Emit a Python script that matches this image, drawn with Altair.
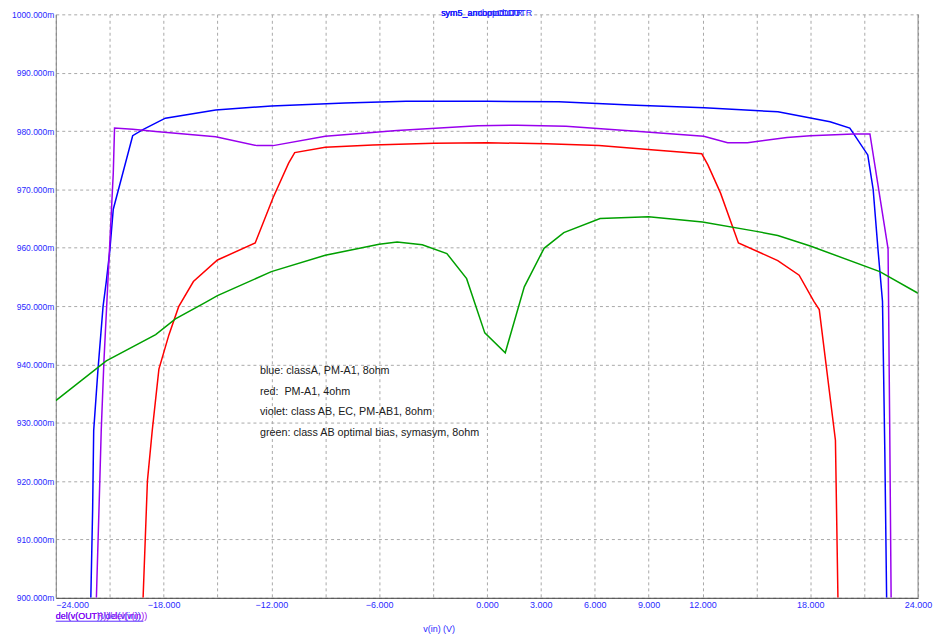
import altair as alt
import pandas as pd

# ---------------- data ----------------
blue_x = [-22.05, -21.95, -21.89, -21.65, -21.37, -21.19, -21.0, -20.8, -19.72, -19.18, -17.9, -15.1, -12.0,
          -7.9, -4.5, 0.0, 4.0, 8.3, 12.1, 16.2, 19.1, 20.2, 20.4, 21.2, 21.5, 21.78, 22.02, 22.15, 22.25]
blue_y = [900, 915, 928.7, 939.2, 949.9, 954.2, 959.3, 966.6, 979.2, 980.2, 982.2, 983.6, 984.3,
          984.8, 985.1, 985.1, 985.0, 984.4, 984.0, 983.3, 981.6, 980.5, 979.6, 975.9, 970.0, 959.3, 950.8, 925, 900]

red_x = [-19.14, -18.9, -18.63, -18.26, -17.7, -17.16, -16.34, -15.0, -12.9, -11.9, -11.04, -10.7, -9.0, -6.35,
         -2.96, 0.0, 3.3, 6.24, 9.15, 11.96, 12.3, 13.0, 14.0, 16.19, 17.38, 18.2, 18.5, 19.4, 19.54]
red_y = [900, 920, 928.7, 939.2, 945.1, 949.9, 954.2, 957.9, 960.8, 968.6, 974.5, 976.3, 977.2, 977.6,
         977.9, 978.0, 977.8, 977.5, 976.8, 976.1, 974.2, 969.4, 960.8, 957.8, 955.3, 950.8, 949.4, 927, 900]

violet_x = [-21.74, -21.55, -21.47, -21.32, -21.1, -20.8, -20.73, -19.72, -18.44, -15.1, -12.8, -11.9, -9.0,
            -5.0, -0.5, 1.7, 4.4, 8.5, 12.07, 13.4, 14.5, 16.7, 18.0, 20.4, 21.32, 22.33, 22.42, 22.5]
violet_y = [900, 920, 928.7, 940.6, 954.2, 972.8, 980.5, 980.3, 979.9, 979.0, 977.5, 977.5, 979.1,
            980.1, 980.9, 981.0, 980.8, 979.9, 979.1, 978.0, 978.0, 978.9, 979.2, 979.5, 979.5, 959.8, 930, 900]

green_x = [-24.0, -21.19, -18.44, -17.34, -15.69, -15.0, -12.0, -9.0, -6.0, -5.0, -3.6, -2.23, -1.13, -0.12,
           1.02, 2.08, 3.18, 4.28, 6.3, 9.0, 12.0, 15.0, 16.19, 18.0, 21.87, 24.0]
green_y = [933.8, 940.6, 945.1, 947.8, 950.6, 951.8, 955.9, 958.7, 960.6, 961.0, 960.5, 959.0, 954.7, 945.4,
           942.0, 953.3, 959.9, 962.6, 965.0, 965.3, 964.4, 962.8, 962.1, 960.3, 955.9, 952.2]

series_names = ["blue", "red", "violet", "green"]
series_colors = ["#0000ff", "#ff0000", "#9900ee", "#00a000"]

x_ticks = [-24, -21, -18, -15, -12, -9, -6, -3, 0, 3, 6, 9, 12, 15, 18, 21, 24]
x_unlabeled = [-21, -15, -9, -3, 15, 21]
y_ticks = [900, 910, 920, 930, 940, 950, 960, 970, 980, 990, 1000]

annotations = [
    "blue: classA, PM-A1, 8ohm",
    "red:\u00a0 PM-A1, 4ohm",
    "violet: class AB, EC, PM-AB1, 8ohm",
    "green: class AB optimal bias, symasym, 8ohm",
]
top_titles = ["sym5_ancomod:OUTR", "sym5_amtopt:OUTR", "sym5_ancbopt:OUT"]
legend_texts = ["del(v(OUT))/del(v(in))", "del(v(OUTR))/del(v(in))"]
legend_colors = ["#2a2aff", "#9900ee"]
x_title = "v(in) (V)"

# ---------------- build ----------------
rows = []
for name, xs, ys in zip(series_names, [blue_x, red_x, violet_x, green_x], [blue_y, red_y, violet_y, green_y]):
    for i, (xv, yv) in enumerate(zip(xs, ys)):
        rows.append({"series": name, "x": xv, "y": yv, "i": i})
df = pd.DataFrame(rows)

W, H = 866, 586
FONT = "Liberation Sans"
LABEL_BLUE = "#2a2aff"
GRID = "#a8a8a8"
one = pd.DataFrame({"a": [0]})

hidden = ",".join(str(v) for v in x_unlabeled)
x_axis = alt.Axis(
    values=x_ticks,
    labelExpr=f"indexof([{hidden}], datum.value) >= 0 ? '' : format(datum.value, '.3f')",
    grid=True, gridDash=[3, 3], gridColor=GRID, gridWidth=1,
    ticks=False, tickSize=0,
    domainColor="#404040", domainWidth=1,
    labelColor=LABEL_BLUE, labelFont=FONT, labelFontSize=9, labelPadding=3,
    labelOverlap=False,
    labelAlign={"condition": {"test": "datum.value == -24", "value": "left"}, "value": "center"},
    title=None,
)
y_axis = alt.Axis(
    values=y_ticks,
    labelExpr="format(datum.value, '.3f') + 'm'",
    grid=True, gridDash=[3, 3], gridColor=GRID, gridWidth=1,
    ticks=False, tickSize=0,
    domainColor="#808080", domainWidth=1,
    labelColor=LABEL_BLUE, labelFont=FONT, labelFontSize=8.5, labelPadding=2,
    labelOverlap=False,
    title=None,
)

lines = alt.Chart(df).mark_line(strokeWidth=1.5, clip=True).encode(
    x=alt.X("x:Q", scale=alt.Scale(domain=[-24, 24], nice=False, zero=False), axis=x_axis),
    y=alt.Y("y:Q", scale=alt.Scale(domain=[900, 1000], nice=False, zero=False), axis=y_axis),
    color=alt.Color("series:N", scale=alt.Scale(domain=series_names, range=series_colors), legend=None),
    order="i:Q",
)

right_border = alt.Chart(one).mark_rule(color="#808080", strokeWidth=1).encode(
    x=alt.value(W), y=alt.value(0), y2=alt.value(H)
)

layers = [lines, right_border]

ann_y = [358, 379, 399, 420]
for txt, yy in zip(annotations, ann_y):
    layers.append(
        alt.Chart(one).mark_text(align="left", baseline="middle", font=FONT, fontSize=10.8,
                                 color="#202020", text=txt).encode(x=alt.value(205), y=alt.value(yy))
    )

for txt in top_titles:
    layers.append(
        alt.Chart(one).mark_text(align="left", baseline="top", font=FONT, fontSize=9,
                                 color="#2020ff", text=txt).encode(x=alt.value(387), y=alt.value(-5))
    )

for txt, col in zip(legend_texts, legend_colors):
    layers.append(
        alt.Chart(one).mark_text(align="left", baseline="middle", font=FONT, fontSize=9,
                                 color=col, text=txt).encode(x=alt.value(0), y=alt.value(604))
    )
layers.append(
    alt.Chart(one).mark_rule(color="#5a2aff", strokeWidth=1).encode(
        x=alt.value(0), x2=alt.value(88), y=alt.value(609.5)
    )
)

layers.append(
    alt.Chart(one).mark_text(align="center", baseline="middle", font=FONT, fontSize=9,
                             color=LABEL_BLUE, text=x_title).encode(x=alt.value(385), y=alt.value(617))
)

chart = alt.layer(*layers).properties(
    width=W, height=H,
    autosize=alt.AutoSizeParams(type="none"),
    padding={"left": 48, "top": 5, "right": 15, "bottom": 37},
    background="white",
).configure_view(stroke=None)

chart.save("out.html", embed_options={"renderer": "svg", "actions": False})
